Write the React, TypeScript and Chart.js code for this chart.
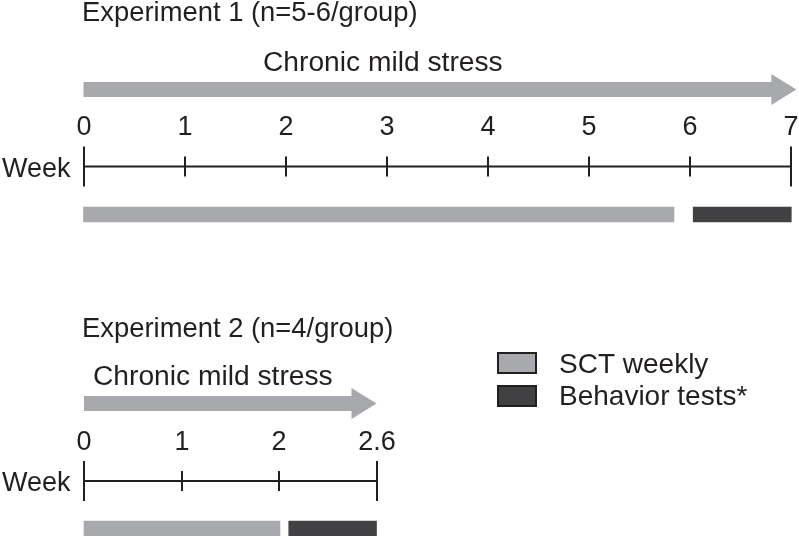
import React, { useEffect, useRef } from "react";
import { Chart, registerables } from "chart.js";

Chart.register(...registerables);

// ---------- data ----------
const titles = ["Experiment 1 (n=5-6/group)", "Experiment 2 (n=4/group)"];
const stressLabel = "Chronic mild stress";
const axisLabel = "Week";
const legendLabels = ["SCT weekly", "Behavior tests*"];

const exp1Weeks = [0, 1, 2, 3, 4, 5, 6, 7];
const exp1TickLabels = ["0", "1", "2", "3", "4", "5", "6", "7"];
const exp1Stress = [0, 7.05];
const exp1SCT = [0, 5.84];
const exp1Behavior = [6.03, 7];

const exp2Weeks = [0, 1, 2, 3];
const exp2TickLabels = ["0", "1", "2", "2.6"];
const exp2Stress = [0, 3];
const exp2SCT = [0, 2.01];
const exp2Behavior = [2.1, 3];

// ---------- styles / layout ----------
const GRAY = "#a7a9ac";
const DARK = "#414042";
const INK = "#231f20";
const FONT = '"Liberation Sans", Arial, Helvetica, sans-serif';
const W = 799;
const H = 536;

const L1 = { titleX: 82, titleY: 20.5, stressX: 263, stressY: 70.7, arrowY: 89.5, tickY: 135, axisY: 166.5, weekY: 176.5, barY: 214.5 };
const L2 = { titleX: 82, titleY: 336.7, stressX: 93, stressY: 385, arrowY: 403.5, tickY: 450, axisY: 481, weekY: 490.7, barY: 528.5 };

const timelinePlugin = {
  id: "timeline",
  afterDatasetsDraw(chart: any) {
    const ctx = chart.ctx as CanvasRenderingContext2D;
    const yS = chart.scales.y;
    const rows = [
      { sc: chart.scales.x1, L: L1, weeks: exp1Weeks, labels: exp1TickLabels, stress: exp1Stress, title: titles[0] },
      { sc: chart.scales.x2, L: L2, weeks: exp2Weeks, labels: exp2TickLabels, stress: exp2Stress, title: titles[1] },
    ];
    ctx.save();
    for (const r of rows) {
      const { sc, L } = r;
      ctx.fillStyle = INK;
      ctx.textAlign = "left";
      ctx.textBaseline = "alphabetic";
      ctx.font = `27.4px ${FONT}`;
      ctx.fillText(r.title, L.titleX, yS.getPixelForValue(L.titleY));
      ctx.font = `28.2px ${FONT}`;
      ctx.fillText(stressLabel, L.stressX, yS.getPixelForValue(L.stressY));
      ctx.font = `27px ${FONT}`;
      ctx.fillText(axisLabel, 2, yS.getPixelForValue(L.weekY));
      // arrow
      const x0 = sc.getPixelForValue(r.stress[0]);
      const xt = sc.getPixelForValue(r.stress[1]);
      const cy = yS.getPixelForValue(L.arrowY);
      const head = 25;
      ctx.fillStyle = GRAY;
      ctx.beginPath();
      ctx.moveTo(x0, cy - 7.5);
      ctx.lineTo(xt - head, cy - 7.5);
      ctx.lineTo(xt - head, cy - 15.5);
      ctx.lineTo(xt, cy);
      ctx.lineTo(xt - head, cy + 15.5);
      ctx.lineTo(xt - head, cy + 7.5);
      ctx.lineTo(x0, cy + 7.5);
      ctx.closePath();
      ctx.fill();
      // axis line
      const ay = yS.getPixelForValue(L.axisY);
      const first = r.weeks[0];
      const last = r.weeks[r.weeks.length - 1];
      ctx.strokeStyle = INK;
      ctx.lineWidth = 2;
      ctx.beginPath();
      ctx.moveTo(sc.getPixelForValue(first), ay);
      ctx.lineTo(sc.getPixelForValue(last), ay);
      ctx.stroke();
      // ticks + labels
      ctx.font = `27px ${FONT}`;
      ctx.textAlign = "center";
      ctx.fillStyle = INK;
      r.weeks.forEach((w, i) => {
        const px = Math.round(sc.getPixelForValue(w));
        const half = i === 0 || i === r.weeks.length - 1 ? 20 : 10;
        ctx.beginPath();
        ctx.moveTo(px, ay - half);
        ctx.lineTo(px, ay + half);
        ctx.stroke();
        ctx.fillText(r.labels[i], px, yS.getPixelForValue(L.tickY));
      });
    }
    // legend
    const legendColors = [GRAY, DARK];
    const boxY = [353, 386];
    const textY = [373.3, 405];
    ctx.textAlign = "left";
    ctx.font = `28px ${FONT}`;
    legendLabels.forEach((lab, i) => {
      ctx.fillStyle = legendColors[i];
      ctx.fillRect(498, boxY[i], 38, 20);
      ctx.strokeStyle = INK;
      ctx.lineWidth = 2;
      ctx.strokeRect(498, boxY[i], 38, 20);
      ctx.fillStyle = INK;
      ctx.fillText(lab, 559, textY[i]);
    });
    ctx.restore();
  },
};

export default function App() {
  const ref = useRef<HTMLCanvasElement>(null);
  useEffect(() => {
    if (!ref.current) return;
    const barDs = (label: string, range: number[], y: number, axis: string, color: string) => ({
      type: "bar" as const,
      label,
      data: [{ x: range, y }],
      xAxisID: axis,
      yAxisID: "y",
      backgroundColor: color,
      borderWidth: 0,
      barThickness: 15,
      maxBarThickness: 15,
      grouped: false,
    });
    const chart = new Chart(ref.current, {
      type: "bar",
      data: {
        datasets: [
          barDs(legendLabels[0], exp1SCT, L1.barY, "x1", GRAY),
          barDs(legendLabels[1], exp1Behavior, L1.barY, "x1", DARK),
          barDs(legendLabels[0], exp2SCT, L2.barY, "x2", GRAY),
          barDs(legendLabels[1], exp2Behavior, L2.barY, "x2", DARK),
        ] as any,
      },
      options: {
        indexAxis: "y",
        animation: false,
        responsive: false,
        events: [],
        layout: { padding: 0 },
        plugins: { legend: { display: false }, tooltip: { enabled: false }, title: { display: false } },
        scales: {
          x1: { type: "linear", display: false, offset: false, min: -83.5 / 101.11, max: -83.5 / 101.11 + W / 101.11 },
          x2: { type: "linear", display: false, offset: false, min: -84 / 97.5, max: -84 / 97.5 + W / 97.5 },
          y: { type: "linear", display: false, offset: false, grace: 0, min: 0, max: H, reverse: true },
        },
      },
      plugins: [timelinePlugin],
    });
    return () => chart.destroy();
  }, []);
  return (
    <div style={{ position: "fixed", left: 0, top: 0, width: W, height: H, background: "#fff" }}>
      <canvas ref={ref} width={W} height={H} style={{ display: "block" }} />
    </div>
  );
}
